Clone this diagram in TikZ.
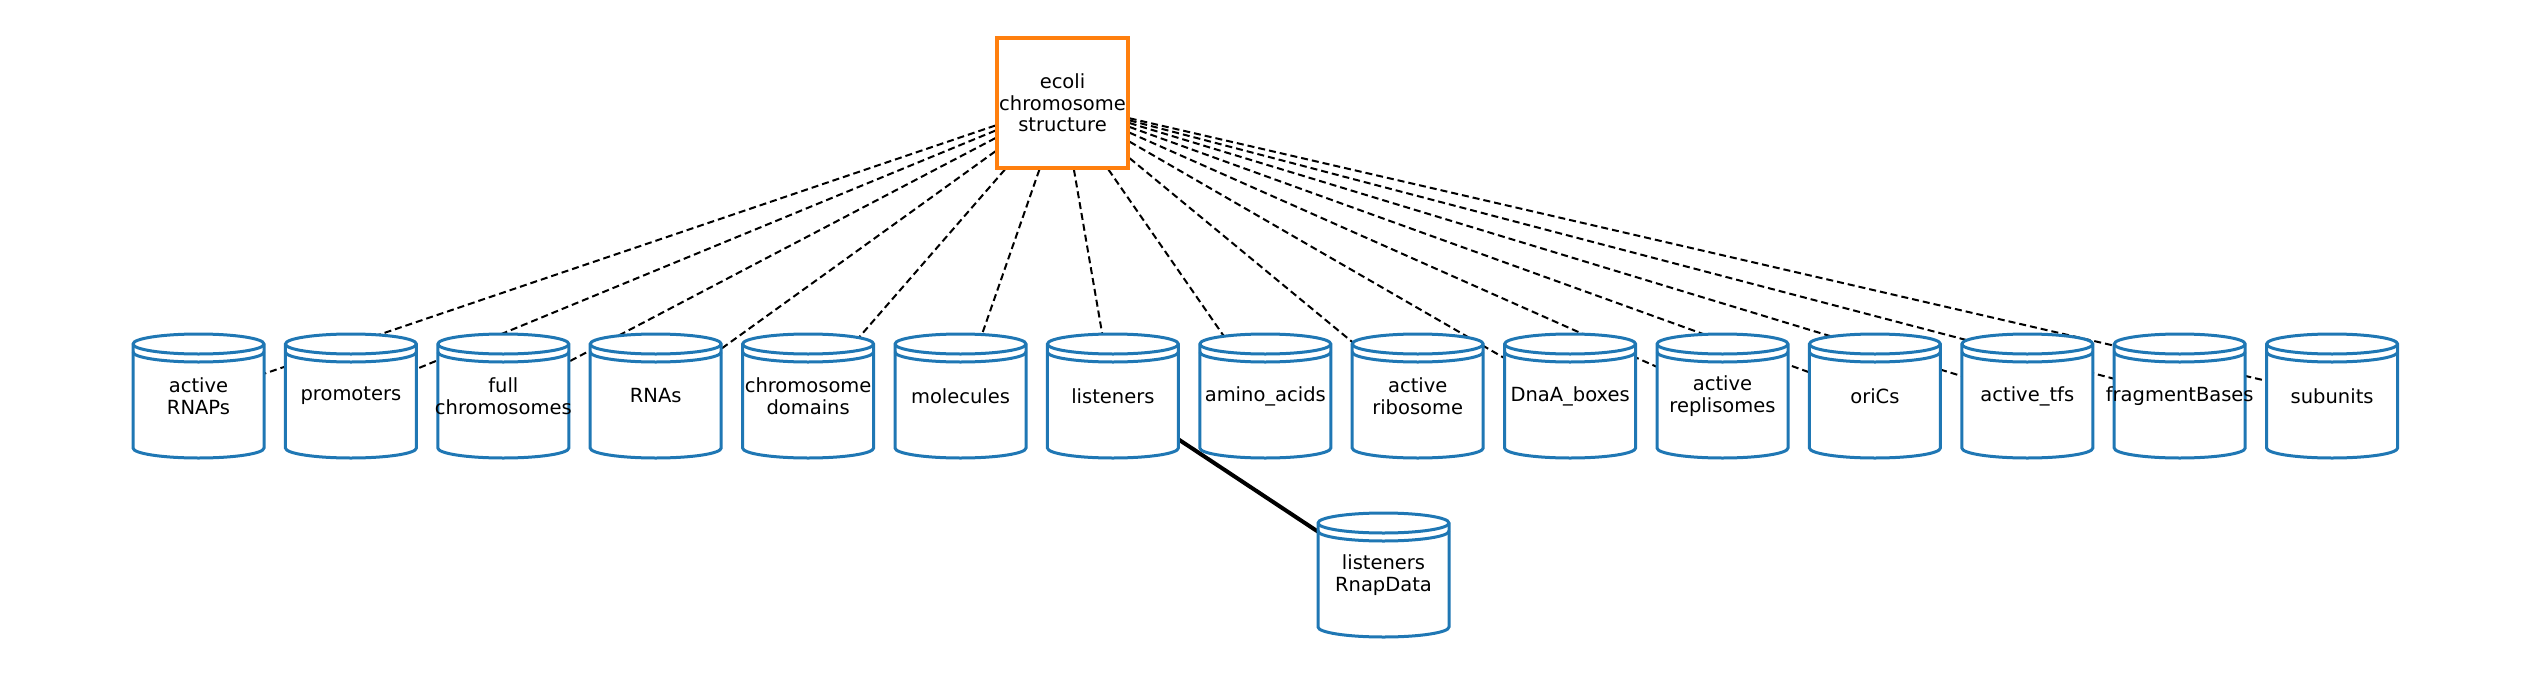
\documentclass[tikz,border=0pt]{standalone}
\usepackage{fontspec}
\setmainfont{DejaVu Sans}
\definecolor{cylblue}{HTML}{1F77B4}
\definecolor{boxorange}{HTML}{FF7F0E}
\pgfdeclarelayer{background}
\pgfsetlayers{background,main}
\tikzset{
  lbl/.style={font=\fontsize{19.5}{22}\selectfont, align=center, inner sep=0pt},
  cylbody/.style={draw=cylblue, line width=3pt, fill=white},
  cylline/.style={draw=cylblue, line width=3pt},
  dep/.style={draw=black, line width=2pt, dash pattern=on 7pt off 4pt},
  solidedge/.style={draw=black, line width=4pt},
  rootbox/.style={draw=boxorange, line width=3.3pt, fill=white, minimum width=131pt, minimum height=130pt, inner sep=0pt, font=\fontsize{19.5}{21.5}\selectfont, align=center}
}
% \mycyl{name}{cx}{cy}{text}
\newcommand{\mycyl}[4]{%
  \path[cylbody] (#2-65.5,#3-52) -- (#2-65.5,#3+52)
     arc[start angle=180, end angle=360, x radius=65.5pt, y radius=10pt]
     -- (#2+65.5,#3-52)
     arc[start angle=0, end angle=180, x radius=65.5pt, y radius=10pt] -- cycle;
  \draw[cylline] (#2-65.5,#3-52) arc[start angle=180, end angle=360, x radius=65.5pt, y radius=10pt];
  \draw[cylline] (#2-65.5,#3-44) arc[start angle=180, end angle=360, x radius=65.5pt, y radius=10pt];
  \node[lbl] (#1) at (#2,#3) {#4};
}
\begin{document}
\begin{tikzpicture}[x=1pt,y=-1pt]
\useasboundingbox (0,0) rectangle (2530,677);
\node[rootbox] (root) at (1062.5,103) {ecoli\\chromosome\\structure};
\mycyl{c1}{198.5}{396}{active\\RNAPs}
\mycyl{c2}{350.9}{396}{promoters}
\mycyl{c3}{503.3}{396}{full\\chromosomes}
\mycyl{c4}{655.7}{396}{RNAs}
\mycyl{c5}{808.1}{396}{chromosome\\domains}
\mycyl{c6}{960.5}{396}{molecules}
\mycyl{c7}{1112.9}{396}{listeners}
\mycyl{c8}{1265.3}{396}{amino\_acids}
\mycyl{c9}{1417.7}{396}{active\\ribosome}
\mycyl{c10}{1570.1}{396}{DnaA\_boxes}
\mycyl{c11}{1722.5}{396}{active\\replisomes}
\mycyl{c12}{1874.9}{396}{oriCs}
\mycyl{c13}{2027.3}{396}{active\_tfs}
\mycyl{c14}{2179.7}{396}{fragmentBases}
\mycyl{c15}{2332.1}{396}{subunits}
\mycyl{rnap}{1383.5}{575}{listeners\\RnapData}
\begin{pgfonlayer}{background}
\foreach \i in {1,...,15} {
  \draw[dep] (root) -- (c\i.center);
}
\draw[solidedge] (c7.center) -- (rnap.center);
\end{pgfonlayer}
\end{tikzpicture}
\end{document}
